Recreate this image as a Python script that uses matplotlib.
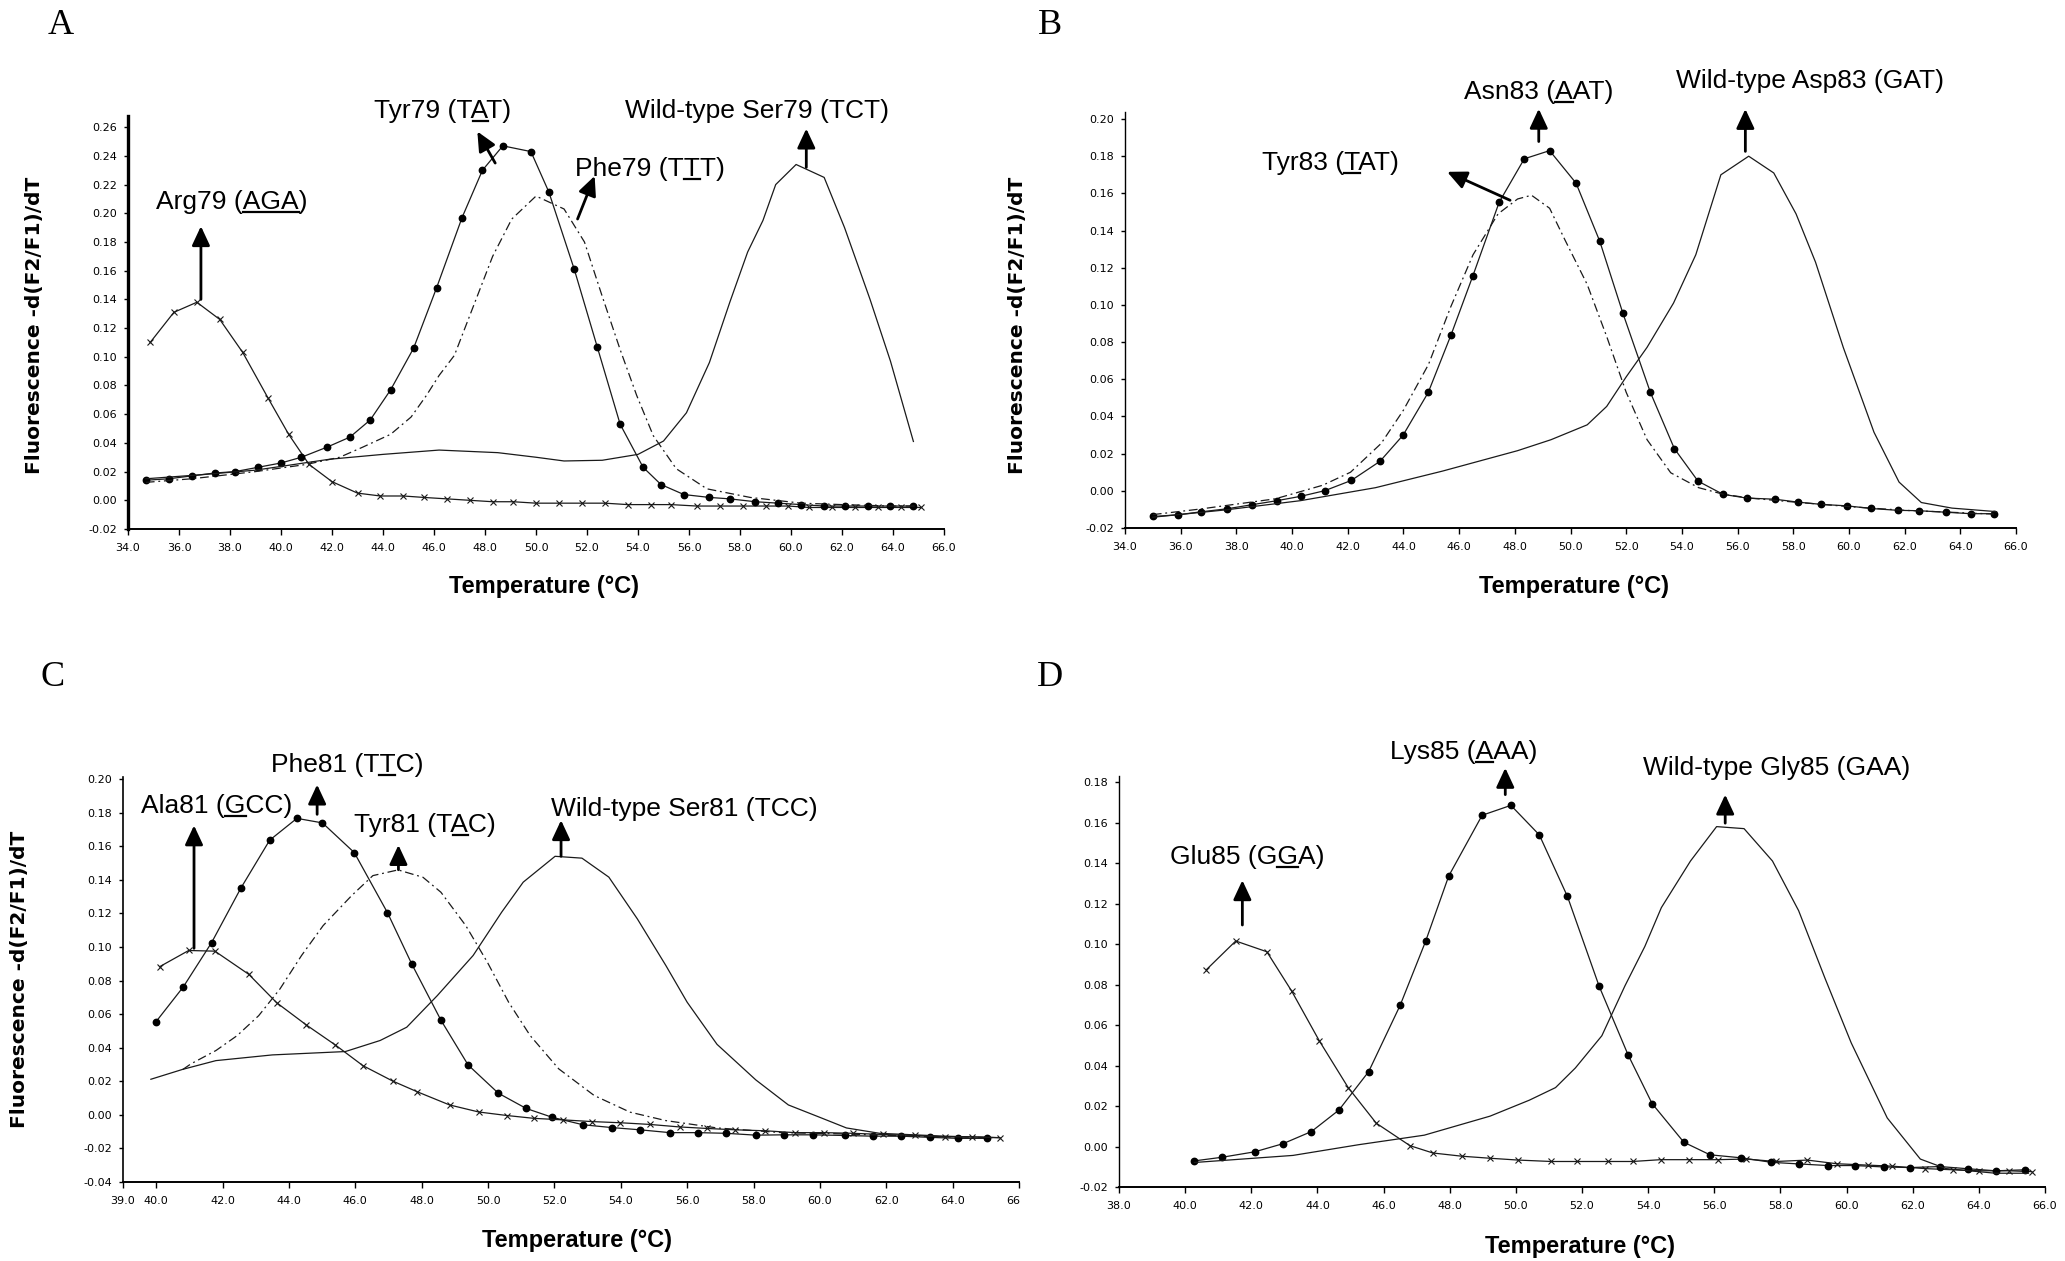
"""Melting-curve derivative plots (-d(F2/F1)/dT) for four codon panels."""
import numpy as np
import matplotlib
matplotlib.use("Agg")
import matplotlib.pyplot as plt
from matplotlib.lines import Line2D
from matplotlib.transforms import IdentityTransform, Bbox, TransformedBbox

# ---------------- data: panel A (codon 79) ----------------
a_arg_t = [34.87, 35.8, 36.7, 37.6, 38.5, 39.5, 40.3, 41.1, 42.0, 43.0, 43.9, 44.8, 45.6, 46.5,
           47.4, 48.3, 49.1, 50.0, 50.9, 51.8, 52.7, 53.6, 54.5, 55.3, 56.3, 57.2, 58.1, 59.0,
           59.9, 60.7, 61.6, 62.5, 63.4, 64.3, 65.1]
a_arg_y = [0.110, 0.131, 0.138, 0.126, 0.103, 0.071, 0.046, 0.025, 0.013, 0.005, 0.003, 0.003,
           0.002, 0.001, 0.000, -0.001, -0.001, -0.002, -0.002, -0.002, -0.002, -0.003, -0.003,
           -0.003, -0.004, -0.004, -0.004, -0.004, -0.004, -0.005, -0.005, -0.005, -0.005,
           -0.005, -0.005]
a_tyr_t = [34.7, 35.6, 36.5, 37.4, 38.2, 39.1, 40.0, 40.8, 41.8, 42.7, 43.5, 44.3, 45.2, 46.1,
           47.1, 47.9, 48.7, 49.8, 50.5, 51.5, 52.4, 53.3, 54.2, 54.9, 55.8, 56.8, 57.6, 58.6,
           59.5, 60.4, 61.3, 62.1, 63.0, 63.9, 64.8]
a_tyr_y = [0.014, 0.015, 0.017, 0.019, 0.020, 0.023, 0.026, 0.030, 0.037, 0.044, 0.056, 0.077,
           0.106, 0.148, 0.197, 0.230, 0.247, 0.243, 0.215, 0.161, 0.107, 0.053, 0.023, 0.011,
           0.004, 0.002, 0.001, -0.001, -0.002, -0.003, -0.004, -0.004, -0.004, -0.004, -0.004]
a_phe_t = [34.7, 36.5, 39.0, 41.0, 42.3, 43.2, 44.3, 45.1, 45.7, 46.2, 46.8, 47.3, 47.8, 48.3,
           49.05, 50.0, 51.1, 51.9, 52.6, 53.3, 53.95, 54.6, 55.5, 56.7, 58.4, 60.4, 62.0, 63.9,
           65.0]
a_phe_y = [0.0125, 0.015, 0.020, 0.025, 0.030, 0.037, 0.046, 0.058, 0.073, 0.087, 0.101, 0.124,
           0.147, 0.170, 0.196, 0.212, 0.203, 0.180, 0.142, 0.105, 0.073, 0.045, 0.022, 0.008,
           0.002, -0.002, -0.003, -0.004, -0.004]
a_wt_t = [34.7, 37.0, 39.0, 41.9, 44.0, 46.2, 48.5, 50.0, 51.1, 52.6, 54.0, 55.0, 55.9, 56.8,
          57.6, 58.3, 58.9, 59.4, 60.2, 61.3, 62.1, 63.1, 63.9, 64.8]
a_wt_y = [0.015, 0.018, 0.021, 0.0286, 0.032, 0.035, 0.0332, 0.030, 0.0274, 0.0279, 0.032,
          0.0413, 0.061, 0.096, 0.138, 0.173, 0.195, 0.220, 0.234, 0.225, 0.190, 0.140, 0.097,
          0.041]

# ---------------- data: panel B (codon 83) ----------------
b_asn_t = [35.02, 35.90, 36.73, 37.65, 38.55, 39.46, 40.33, 41.18, 42.13, 43.16, 43.99, 44.89,
           45.71, 46.49, 47.44, 48.34, 49.25, 50.20, 51.05, 51.88, 52.87, 53.73, 54.58, 55.48,
           56.33, 57.33, 58.18, 59.01, 59.94, 60.79, 61.76, 62.50, 63.47, 64.37, 65.22]
b_asn_y = [-0.0138, -0.0129, -0.0113, -0.0097, -0.0075, -0.0053, -0.0029, 0.0001, 0.0056,
           0.0159, 0.0300, 0.0529, 0.0839, 0.1155, 0.1553, 0.1786, 0.1830, 0.1655, 0.1343,
           0.0956, 0.0529, 0.0227, 0.0052, -0.0019, -0.0039, -0.0045, -0.0061, -0.0073,
           -0.0081, -0.0095, -0.0105, -0.0107, -0.0115, -0.0123, -0.0123]
b_tyr_t = [35.0, 36.7, 39.4, 41.1, 42.1, 43.2, 44.0, 44.9, 45.7, 46.5, 47.4, 48.1, 48.6, 49.25,
           49.8, 50.6, 51.3, 52.0, 52.75, 53.6, 54.6, 55.5, 56.5, 58.0, 60.0, 62.0, 65.2]
b_tyr_y = [-0.0128, -0.0098, -0.0043, 0.0030, 0.0100, 0.0255, 0.0434, 0.068, 0.099, 0.127,
           0.149, 0.157, 0.159, 0.152, 0.135, 0.111, 0.083, 0.053, 0.0275, 0.0097, 0.0017,
           -0.0019, -0.004, -0.006, -0.0085, -0.0105, -0.0125]
b_wt_t = [35.0, 37.65, 40.3, 43.0, 45.4, 48.1, 49.3, 50.6, 51.3, 52.0, 52.75, 53.7, 54.5, 55.4,
          56.4, 57.3, 58.1, 58.8, 59.8, 60.9, 61.8, 62.6, 63.7, 65.3]
b_wt_y = [-0.0142, -0.0102, -0.0053, 0.0017, 0.0106, 0.0216, 0.0275, 0.0355, 0.0454, 0.0613,
          0.0772, 0.101, 0.127, 0.170, 0.180, 0.171, 0.149, 0.123, 0.077, 0.0315, 0.0047,
          -0.0063, -0.0093, -0.0112]

# ---------------- data: panel C (codon 81) ----------------
c_phe_t = [39.98, 40.82, 41.67, 42.55, 43.42, 44.24, 45.01, 45.97, 46.97, 47.70, 48.58, 49.40,
           50.31, 51.15, 51.94, 52.86, 53.74, 54.57, 55.48, 56.34, 57.18, 58.07, 58.91, 59.78,
           60.76, 61.60, 62.45, 63.31, 64.16, 65.04]
c_phe_y = [0.0551, 0.0763, 0.1026, 0.1350, 0.1636, 0.1766, 0.1739, 0.1562, 0.1204, 0.0899,
           0.0564, 0.0297, 0.0129, 0.0038, -0.0015, -0.0059, -0.0076, -0.0089, -0.0106,
           -0.0106, -0.0110, -0.0121, -0.0119, -0.0119, -0.0123, -0.0127, -0.0127, -0.0134,
           -0.0140, -0.0140]
c_ala_t = [40.10, 40.98, 41.77, 42.79, 43.63, 44.52, 45.40, 46.23, 47.13, 47.86, 48.84, 49.72,
           50.57, 51.39, 52.27, 53.12, 53.98, 54.87, 55.77, 56.59, 57.44, 58.36, 59.25, 60.13,
           61.0, 61.9, 62.88, 63.76, 64.59, 65.43]
c_ala_y = [0.0882, 0.0979, 0.0975, 0.0837, 0.0668, 0.0536, 0.0416, 0.0293, 0.0201, 0.0138,
           0.0059, 0.0017, -0.0004, -0.0021, -0.0030, -0.0040, -0.0047, -0.0057, -0.0072,
           -0.0081, -0.0089, -0.0095, -0.0106, -0.0106, -0.0110, -0.0117, -0.0123, -0.0131,
           -0.0131, -0.0136]
c_tyr_t = [40.8, 41.05, 41.8, 42.44, 43.09, 43.73, 44.38, 45.03, 45.89, 46.53, 47.29, 48.04,
           48.58, 49.33, 49.98, 50.62, 51.27, 52.13, 53.2, 54.28, 55.35, 56.9, 58.85, 60.8,
           62.8, 65.3]
c_tyr_y = [0.027, 0.0304, 0.0383, 0.0472, 0.0591, 0.075, 0.0949, 0.1127, 0.1306, 0.1425,
           0.1459, 0.1415, 0.1326, 0.1127, 0.0909, 0.0671, 0.0472, 0.0274, 0.0115, 0.0016,
           -0.0034, -0.0078, -0.0106, -0.0114, -0.0127, -0.0136]
c_wt_t = [39.84, 40.8, 41.8, 43.5, 45.7, 46.75, 47.55, 48.47, 49.55, 50.41, 51.06, 52.02,
          52.83, 53.64, 54.5, 55.36, 56.0, 56.9, 58.07, 59.05, 60.0, 60.8, 61.8, 63.76, 65.4]
c_wt_y = [0.0212, 0.0271, 0.0323, 0.0357, 0.0377, 0.0443, 0.0522, 0.071, 0.0949, 0.1207,
          0.1386, 0.154, 0.1529, 0.1416, 0.1167, 0.0889, 0.0671, 0.042, 0.0208, 0.0059,
          -0.0015, -0.0078, -0.0110, -0.0127, -0.0136]

# ---------------- data: panel D (codon 85) ----------------
d_lys_t = [40.28, 41.12, 42.11, 42.96, 43.82, 44.65, 45.55, 46.50, 47.27, 47.97, 48.98, 49.85,
           50.71, 51.56, 52.52, 53.39, 54.12, 55.08, 55.87, 56.82, 57.72, 58.55, 59.43, 60.24,
           61.13, 61.93, 62.82, 63.68, 64.51, 65.40]
d_lys_y = [-0.0071, -0.0053, -0.0026, 0.0014, 0.0074, 0.0180, 0.0370, 0.0697, 0.1013, 0.1336,
           0.1636, 0.1685, 0.1539, 0.1235, 0.0791, 0.0454, 0.0212, 0.0021, -0.0041, -0.0056,
           -0.0078, -0.0086, -0.0094, -0.0094, -0.0101, -0.0104, -0.0099, -0.0110, -0.0120,
           -0.0115]
d_glu_t = [40.64, 41.53, 42.47, 43.22, 44.06, 44.93, 45.78, 46.80, 47.49, 48.37, 49.22, 50.07,
           51.07, 51.84, 52.79, 53.53, 54.38, 55.24, 56.11, 56.96, 57.86, 58.81, 59.70, 60.64,
           61.37, 62.36, 63.22, 64.01, 64.91, 65.60]
d_glu_y = [0.0873, 0.1015, 0.0962, 0.0768, 0.0521, 0.0291, 0.0115, 0.0004, -0.0032, -0.0048,
           -0.0058, -0.0067, -0.0074, -0.0074, -0.0074, -0.0074, -0.0065, -0.0065, -0.0065,
           -0.0062, -0.0074, -0.0067, -0.0085, -0.0092, -0.0097, -0.0109, -0.0115, -0.0120,
           -0.0120, -0.0124]
d_wt_t = [40.28, 43.26, 45.25, 47.23, 49.22, 50.41, 51.2, 51.8, 52.6, 53.3, 53.9, 54.4, 55.28,
          56.07, 56.9, 57.76, 58.55, 59.35, 60.14, 61.23, 62.23, 63.0, 64.5, 65.5]
d_wt_y = [-0.0079, -0.0044, 0.0009, 0.0056, 0.015, 0.0229, 0.0291, 0.0388, 0.0547, 0.0794,
          0.0988, 0.118, 0.141, 0.158, 0.157, 0.141, 0.1165, 0.083, 0.0512, 0.0141, -0.0062,
          -0.0109, -0.0132, -0.0132]

W, H = 2065, 1261
LINE = '#1a1a1a'
ANN_FONT = 'Liberation Sans'
DASHDOT = (7, 3, 1.5, 3)

fig = plt.figure(figsize=(W / 100, H / 100), dpi=100)
fig.patch.set_facecolor('white')
underlined = []


def panel(l, r, top, bot, xlim, ylim, xticks, yticks, left_lw):
    ax = fig.add_axes([l / W, 1 - bot / H, (r - l) / W, (bot - top) / H])
    ax.set_xlim(*xlim)
    ax.set_ylim(*ylim)
    for s in ('top', 'right'):
        ax.spines[s].set_visible(False)
    ax.spines['left'].set_linewidth(left_lw)
    ax.spines['bottom'].set_linewidth(1.4)
    ax.set_xticks(xticks, labels=[f'{v:.1f}' for v in xticks])
    ax.set_yticks(yticks, labels=[f'{v:.2f}' for v in yticks])
    ax.tick_params(axis='x', length=4, width=1, pad=6, labelsize=8)
    ax.tick_params(axis='y', length=3, width=1, pad=5, labelsize=8)
    for lbl in ax.get_xticklabels() + ax.get_yticklabels():
        lbl.set_family('DejaVu Sans')
    return ax


def dots(ax, t, y):
    ax.plot(t, y, '-', color=LINE, lw=0.9, marker='o', ms=4.6, mfc='black', mec='black')


def crosses(ax, t, y):
    ax.plot(t, y, '-', color=LINE, lw=0.9, marker='x', ms=5, mew=0.8, mec=LINE)


def plain(ax, t, y):
    ax.plot(t, y, '-', color=LINE, lw=0.9)


def dashdot(ax, t, y):
    ax.plot(t, y, color=LINE, lw=0.9, dashes=DASHDOT)


def arrow(ax, x0, y0, x1, y1):
    ax.annotate('', xy=(x1, y1), xytext=(x0, y0), annotation_clip=False,
                arrowprops=dict(arrowstyle='-|>,head_length=0.9,head_width=0.42',
                                lw=2.0, color='black', shrinkA=0, shrinkB=0,
                                mutation_scale=13))


def mutant(ax, x, y, head, under='', tail=''):
    t = ax.text(x, y, head + under + tail, ha='center', va='center', fontsize=19,
                family=ANN_FONT, clip_on=False)
    if under:
        underlined.append((t, head, under))


# ---------------- panel A ----------------
axA = panel(128, 944, 115.7, 529, (34, 66), (-0.02, 0.268),
            np.arange(34, 66.1, 2), np.arange(-0.02, 0.261, 0.02), 2.4)
crosses(axA, a_arg_t, a_arg_y)
dots(axA, a_tyr_t, a_tyr_y)
dashdot(axA, a_phe_t, a_phe_y)
plain(axA, a_wt_t, a_wt_y)
mutant(axA, 38.08, 0.2077, 'Arg79 (', 'AGA', ')')
mutant(axA, 46.35, 0.271, 'Tyr79 (T', 'A', 'T)')
mutant(axA, 54.47, 0.2307, 'Phe79 (T', 'T', 'T)')
mutant(axA, 58.67, 0.271, 'Wild-type Ser79 (TCT)')
arrow(axA, 36.86, 0.140, 36.86, 0.191)
arrow(axA, 48.4, 0.235, 47.7, 0.257)
arrow(axA, 51.63, 0.196, 52.3, 0.226)
arrow(axA, 60.6, 0.232, 60.6, 0.259)

# ---------------- panel B ----------------
axB = panel(1125, 2016, 111.6, 528, (34, 66), (-0.02, 0.204),
            np.arange(34, 66.1, 2), np.arange(-0.02, 0.201, 0.02), 1.0)
dots(axB, b_asn_t, b_asn_y)
dashdot(axB, b_tyr_t, b_tyr_y)
plain(axB, b_wt_t, b_wt_y)
mutant(axB, 48.86, 0.2143, 'Asn83 (', 'A', 'AT)')
mutant(axB, 41.38, 0.1766, 'Tyr83 (', 'T', 'AT)')
mutant(axB, 58.6, 0.2203, 'Wild-type Asp83 (GAT)')
arrow(axB, 48.86, 0.1879, 48.86, 0.2055)
arrow(axB, 47.83, 0.1563, 45.57, 0.1716)
arrow(axB, 56.28, 0.1826, 56.28, 0.2054)

# ---------------- panel C ----------------
c_xticks = [39.0] + list(np.arange(40, 66.1, 2))
axC = panel(123, 1019, 777.4, 1182, (39, 66), (-0.04, 0.201),
            c_xticks, np.arange(-0.04, 0.201, 0.02), 1.2)
dots(axC, c_phe_t, c_phe_y)
crosses(axC, c_ala_t, c_ala_y)
dashdot(axC, c_tyr_t, c_tyr_y)
plain(axC, c_wt_t, c_wt_y)
mutant(axC, 41.83, 0.184, 'Ala81 (', 'G', 'CC)')
mutant(axC, 45.75, 0.2084, 'Phe81 (T', 'T', 'C)')
mutant(axC, 48.11, 0.1724, 'Tyr81 (T', 'A', 'C)')
mutant(axC, 55.9, 0.182, 'Wild-type Ser81 (TCC)')
arrow(axC, 41.14, 0.0992, 41.14, 0.1724)
arrow(axC, 44.85, 0.179, 44.85, 0.1967)
arrow(axC, 47.3, 0.146, 47.3, 0.1607)
arrow(axC, 52.2, 0.1540, 52.2, 0.1755)
# the last temperature label is cut by the panel edge
last = axC.xaxis.get_major_ticks()[-1].label1
last.set_clip_box(TransformedBbox(Bbox([[0, 0], [1020, H]]), IdentityTransform()))
last.set_clip_on(True)

# ---------------- panel D ----------------
axD = panel(1119, 2045, 776, 1187, (38, 66), (-0.02, 0.183),
            np.arange(38, 66.1, 2), np.arange(-0.02, 0.181, 0.02), 1.0)
crosses(axD, d_glu_t, d_glu_y)
dots(axD, d_lys_t, d_lys_y)
plain(axD, d_wt_t, d_wt_y)
mutant(axD, 41.87, 0.1429, 'Glu85 (G', 'G', 'A)')
mutant(axD, 48.43, 0.195, 'Lys85 (', 'A', 'AA)')
mutant(axD, 57.9, 0.187, 'Wild-type Gly85 (GAA)')
arrow(axD, 41.73, 0.1094, 41.73, 0.1315)
arrow(axD, 49.68, 0.1738, 49.68, 0.187)
arrow(axD, 56.33, 0.1597, 56.33, 0.1738)

# ---------------- axis titles and panel letters ----------------
ylab = 'Fluorescence -d(F2/F1)/dT'
for x, y in [(35, 325), (1017, 325), (19.5, 979)]:
    fig.text(x / W, 1 - y / H, ylab, rotation=90, ha='center', va='center',
             fontsize=14.5, fontweight='bold', family='DejaVu Sans')
for x, y in [(544, 587), (1574, 586), (577, 1241), (1580, 1246)]:
    fig.text(x / W, 1 - y / H, 'Temperature (\u00b0C)', ha='center', va='center',
             fontsize=17, fontweight='bold', family='Liberation Sans')
for letter, x, y in [('A', 61, 26), ('B', 1050, 26), ('C', 53, 678), ('D', 1050, 678)]:
    fig.text(x / W, 1 - y / H, letter, ha='center', va='center', fontsize=26,
             family='Liberation Serif')

# underline the mutated base in each codon
fig.canvas.draw()
rend = fig.canvas.get_renderer()
for t, head, under in underlined:
    prop = t.get_fontproperties()
    bb = t.get_window_extent(rend)
    w_head = rend.get_text_width_height_descent(head, prop, ismath=False)[0]
    w_mid = rend.get_text_width_height_descent(head + under, prop, ismath=False)[0]
    desc = rend.get_text_width_height_descent('lp', prop, ismath=False)[2]
    yb = bb.y0 + desc - 3
    fig.add_artist(Line2D([bb.x0 + w_head, bb.x0 + w_mid], [yb, yb], lw=1.6,
                          color='black', transform=IdentityTransform()))

fig.savefig('out.png', dpi=100, facecolor='white')
